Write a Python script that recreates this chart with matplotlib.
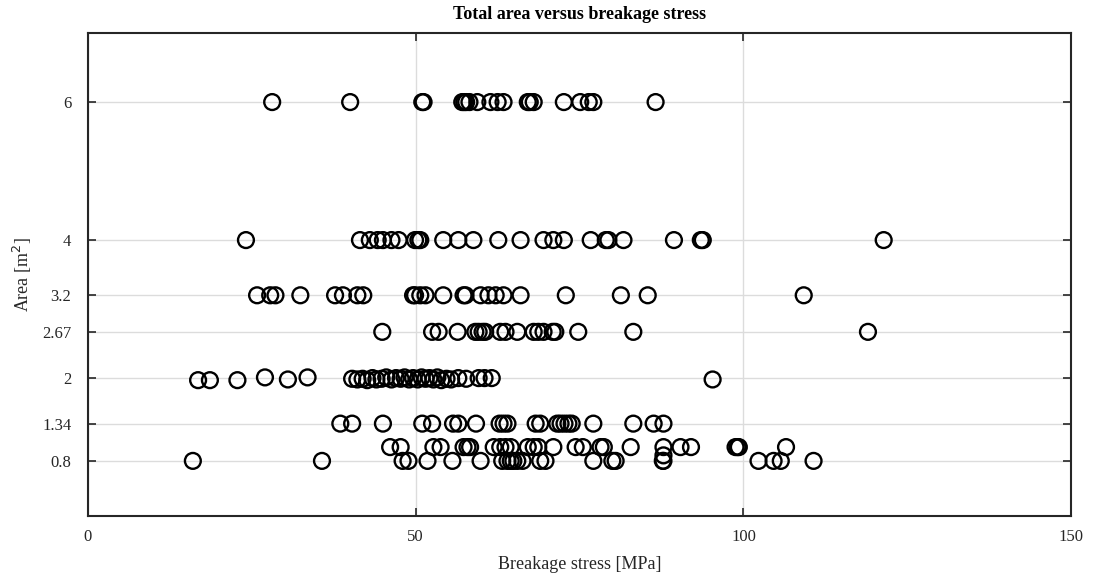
#!/usr/bin/env python3
import numpy as np
import matplotlib
matplotlib.use('Agg')
import matplotlib.pyplot as plt

# BREAKAGE STRESS [MPa] GROUPED BY TOTAL AREA [m^2]
stress_6 = [28.1, 40.0, 51.0, 51.2, 57.1, 57.4, 57.7, 58.2, 59.4, 61.4, 62.5, 63.4,
            67.1, 67.4, 68.0, 72.6, 75.1, 76.4, 77.1, 86.6]
stress_4 = [24.1, 41.5, 43.0, 44.2, 45.0, 46.3, 47.4, 49.9, 50.4, 50.7, 54.2, 56.5,
            58.8, 62.6, 66.0, 69.5, 71.0, 72.6, 76.7, 79.0, 79.4, 81.7, 89.4, 93.5,
            93.8, 121.4]
stress_32 = [25.8, 27.8, 28.6, 32.4, 37.7, 38.9, 41.1, 42.0, 49.6, 49.9, 50.7, 51.5,
             54.2, 57.3, 57.6, 59.9, 61.1, 62.2, 63.4, 66.0, 72.9, 81.3, 85.4, 109.2]
stress_267 = [44.9, 52.5, 53.5, 56.4, 59.1, 59.6, 60.2, 60.6, 62.9, 63.7, 65.5, 68.0,
              68.7, 69.5, 70.9, 71.3, 74.8, 83.2, 119.0]
stress_2 = [16.8, 18.6, 22.8, 27.0, 30.5, 33.5, 40.3, 41.1, 41.9, 42.6, 43.4, 44.0,
            44.8, 45.5, 46.3, 47.0, 47.7, 48.3, 49.0, 49.6, 50.3, 50.9, 51.5, 52.1,
            52.7, 53.3, 53.9, 54.7, 55.4, 56.5, 57.7, 59.6, 60.5, 61.6, 95.3]
area_2 = [1.97, 1.97, 1.97, 2.01, 1.98, 2.01, 1.99, 1.98, 1.99, 1.97, 2.00, 1.98,
          1.99, 2.01, 1.98, 2.00, 1.99, 2.01, 1.98, 2.00, 1.98, 2.01, 1.99, 2.00,
          1.98, 2.01, 1.97, 1.99, 1.98, 2.00, 1.99, 2.00, 2.00, 2.00, 1.98]
stress_134 = [38.5, 40.3, 45.0, 51.0, 52.5, 55.7, 56.5, 59.2, 62.8, 63.4, 64.0, 68.3,
              69.0, 71.6, 72.1, 72.7, 73.3, 73.8, 77.1, 83.2, 86.3, 87.8]
stress_1 = [46.1, 47.7, 52.7, 53.8, 57.3, 57.9, 58.3, 61.9, 62.9, 63.7, 64.5, 67.1,
            68.0, 68.7, 71.0, 74.4, 75.5, 78.2, 78.7, 82.8, 87.8, 90.4, 92.0, 98.8,
            99.1, 99.3, 106.5]
stress_08 = [16.0, 35.7, 48.0, 48.9, 51.8, 55.6, 59.9, 63.2, 64.0, 64.5, 64.9, 65.5,
             66.3, 69.0, 69.8, 77.1, 80.0, 80.5, 87.7, 87.8, 87.8, 102.3, 104.6, 105.7,
             110.7]
area_08 = [0.8] * 20 + [0.88] + [0.8] * 4

area_ticks = [0.8, 1.34, 2, 2.67, 3.2, 4, 6]
area_ticklabels = ['0.8', '1.34', '2', '2.67', '3.2', '4', '6']
stress_ticks = [0, 50, 100, 150]

# COLLECT ALL POINTS
x = np.concatenate([stress_6, stress_4, stress_32, stress_267, stress_2,
                    stress_134, stress_1, stress_08])
y = np.concatenate([[6] * len(stress_6), [4] * len(stress_4), [3.2] * len(stress_32),
                    [2.67] * len(stress_267), area_2, [1.34] * len(stress_134),
                    [1.0] * len(stress_1), area_08])

# PLOT
plt.rcParams['font.family'] = 'Liberation Serif'
fig = plt.figure(figsize=(10.93, 5.76), dpi=100)
ax = fig.add_axes([0.0805, 0.104, 0.8995, 0.8386])

ax.scatter(x, y, s=130, facecolors='none', edgecolors='black', linewidths=1.7, zorder=3)

ax.set_xlim(0, 150)
ax.set_ylim(0, 7)
ax.set_xticks(stress_ticks)
ax.set_yticks(area_ticks)
ax.set_yticklabels(area_ticklabels)

ax.grid(True, color='#dcdcdc', linewidth=1.0, zorder=0)
ax.set_axisbelow(True)
ax.tick_params(direction='in', length=6, width=1.2, colors='#262626',
               labelcolor='#262626', labelsize=12, top=True, right=True)
ax.tick_params(axis='x', pad=9)
ax.tick_params(axis='y', pad=12)
for sp in ax.spines.values():
    sp.set_color('#262626')
    sp.set_linewidth(1.5)

ax.set_xlabel('Breakage stress [MPa]', fontsize=13, color='#262626', labelpad=8)
ax.set_ylabel('Area [m$^2$]', fontsize=13, color='#262626', labelpad=6)
ax.set_title('Total area versus breakage stress', fontsize=13, fontweight='bold', pad=10)

plt.savefig('out.png', dpi=100)
plt.close('all')
